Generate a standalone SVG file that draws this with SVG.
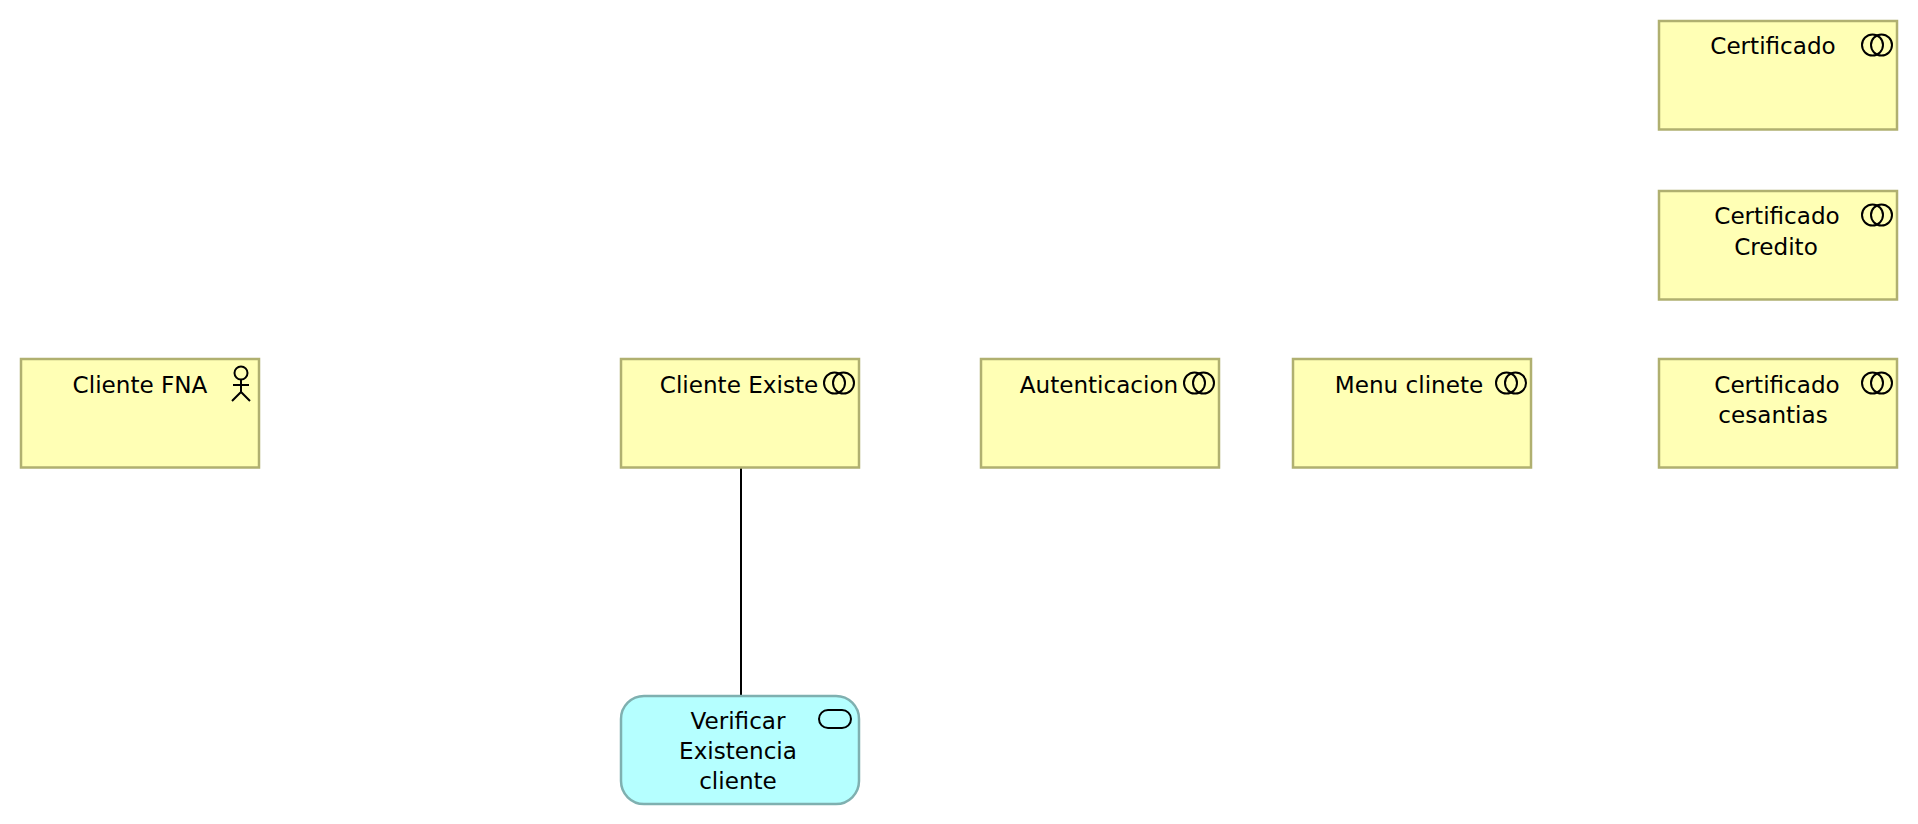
<svg xmlns="http://www.w3.org/2000/svg" width="1918" height="824" viewBox="0 0 1918 824">
<style>
text{font-family:"DejaVu Sans","Liberation Sans",sans-serif;font-size:23.1px;fill:#000;text-anchor:middle}
.y{fill:#ffffb5;stroke:#b0b070;stroke-width:2.500}
.c{fill:#b5ffff;stroke:#7fb0b0;stroke-width:2.500}
.i{fill:none;stroke:#000;stroke-width:2}
</style>
<defs>
<g id="collab" class="i"><circle cx="-4.500" cy="0" r="10.500"/><circle cx="4.500" cy="0" r="10.500"/></g>
</defs>
<rect width="1918" height="824" fill="#fff"/>
<g id="connectors"><line x1="741" y1="467" x2="741" y2="696" stroke="#000" stroke-width="2"/></g>
<g id="certificado"><rect class="y" x="1659" y="21" width="238" height="108.500"/><text x="1773" y="53.500">Certificado</text><use href="#collab" x="1877" y="45"/></g>
<g id="certificado-credito"><rect class="y" x="1659" y="191" width="238" height="108.500"/><text x="1777" y="223.500">Certificado</text><text x="1776" y="254.500">Credito</text><use href="#collab" x="1877" y="215"/></g>
<g id="certificado-cesantias"><rect class="y" x="1659" y="359" width="238" height="108.500"/><text x="1777" y="392.500">Certificado</text><text x="1773" y="422.500">cesantias</text><use href="#collab" x="1877" y="383"/></g>
<g id="cliente-fna"><rect class="y" x="21" y="359" width="238" height="108.500"/><text x="140" y="392.500">Cliente FNA</text><g class="i"><circle cx="241" cy="373" r="6.500"/><path d="M241 379.500V392M233 385H249M232 401L241 392L250 401"/></g></g>
<g id="cliente-existe"><rect class="y" x="621" y="359" width="238" height="108.500"/><text x="739" y="392.500">Cliente Existe</text><use href="#collab" x="839" y="383"/></g>
<g id="autenticacion"><rect class="y" x="981" y="359" width="238" height="108.500"/><text x="1099" y="392.500">Autenticacion</text><use href="#collab" x="1199" y="383"/></g>
<g id="menu-clinete"><rect class="y" x="1293" y="359" width="238" height="108.500"/><text x="1409" y="392.500">Menu clinete</text><use href="#collab" x="1511" y="383"/></g>
<g id="verificar"><rect class="c" x="621" y="696" width="238" height="108" rx="23"/><text x="738" y="728.500">Verificar</text><text x="738" y="758.500">Existencia</text><text x="738" y="788.500">cliente</text><rect class="i" x="819" y="710" width="32" height="18" rx="9"/></g>
</svg>
